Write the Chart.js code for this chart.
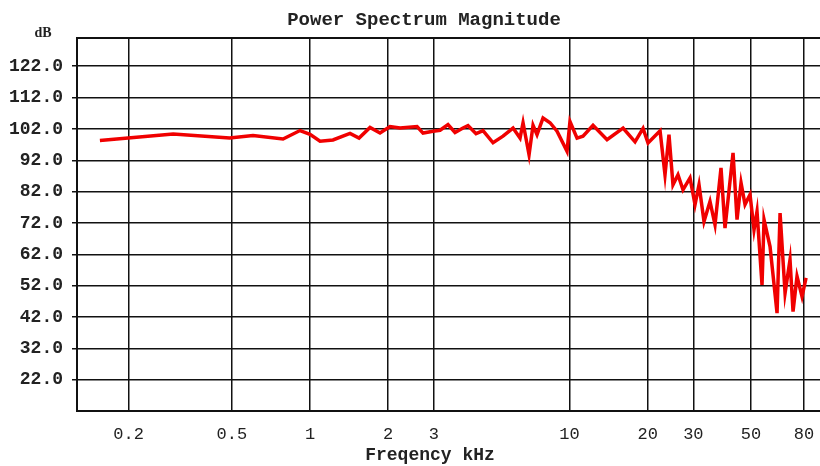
<!DOCTYPE html>
<html>
<head>
<meta charset="utf-8">
<script src="https://cdn.jsdelivr.net/npm/chart.js@4.4.1/dist/chart.umd.min.js"></script>
<style>
  html, body { margin: 0; padding: 0; background: #fff; }
  #wrap { width: 820px; height: 466px; }
</style>
</head>
<body>
<div id="wrap"><canvas id="spectrum" width="820" height="466"></canvas></div>
<script>
// frequency in kHz, level in dB
var freqs = [0.155, 0.199, 0.297, 0.49, 0.603, 0.787, 0.915, 1.0, 1.093, 1.226,
    1.426, 1.545, 1.703, 1.861, 2.034, 2.223, 2.585, 2.726, 2.979, 3.17,
    3.402, 3.621, 3.887, 4.063, 4.362, 4.642, 5.073, 5.543, 6.058, 6.447,
    6.621, 6.983, 7.235, 7.496, 7.906, 8.412, 8.95, 9.781, 10.04, 10.69,
    11.27, 12.32, 13.95, 16.08, 17.11, 17.88, 19.2, 20.07, 22.33, 23.33,
    24.17, 25.04, 26.18, 27.37, 29.13, 30.45, 31.55, 32.98, 34.78, 36.36,
    38.35, 39.73, 42.67, 44.21, 45.81, 47.46, 49.61, 51.4, 52.78, 55.18,
    56.18, 59.25, 63.05, 64.76, 67.7, 70.74, 72.66, 75.28, 78.7, 81.55];
var levels = [98.3, 99.1, 100.4, 99.1, 99.9, 98.8, 101.5, 100.3, 98.1, 98.5,
    100.6, 99.1, 102.5, 100.7, 102.8, 102.3, 102.8, 100.7, 101.3, 101.6,
    103.4, 100.9, 102.3, 103.1, 100.5, 101.5, 97.6, 99.7, 102.3, 99.1,
    104.0, 93.8, 103.2, 100.2, 105.5, 104.0, 101.3, 94.9, 104.4, 99.1,
    99.7, 103.2, 98.6, 102.3, 99.7, 97.9, 102.2, 97.5, 101.4, 87.4,
    100.2, 84.2, 87.4, 82.6, 86.4, 77.9, 84.2, 72.5, 78.9, 71.5,
    89.6, 70.4, 94.4, 73.1, 84.8, 77.9, 81.1, 69.9, 75.7, 52.3,
    73.1, 64.5, 43.3, 75.2, 49.7, 60.3, 43.8, 55.0, 48.6, 54.5];

var xTicks = [0.2, 0.5, 1, 2, 3, 10, 20, 30, 50, 80];
var xTickLabels = ['0.2', '0.5', '1', '2', '3', '10', '20', '30', '50', '80'];
var yTicks = [22, 32, 42, 52, 62, 72, 82, 92, 102, 112, 122];

var points = freqs.map(function(f, i) {
    return { x: f, y: levels[i] };
});

Chart.defaults.font.family = '"Liberation Mono", "Courier New", monospace';
Chart.defaults.color = '#222';

// title, axis captions and top frame line
var extras = {
    id: 'extras',
    afterDraw: function(chart) {
        var c = chart.ctx, a = chart.chartArea;
        c.save();
        c.strokeStyle = '#111';
        c.lineWidth = 2;
        c.beginPath();
        c.moveTo(a.left, a.top);
        c.lineTo(a.right, a.top);
        c.stroke();
        c.fillStyle = '#222';
        c.textAlign = 'center';
        c.textBaseline = 'middle';
        c.font = 'bold 19px "Liberation Mono"';
        c.fillText('Power Spectrum Magnitude', 424, 20);
        c.font = 'bold 18px "Liberation Mono"';
        c.fillText('Freqency kHz', 430, 455);
        c.font = 'bold 14px "Liberation Serif"';
        c.fillText('dB', 43, 33);
        c.restore();
    }
};

var ctx = document.getElementById('spectrum').getContext('2d');
var spectrumChart = new Chart(ctx, {
    type: 'line',
    data: {
        datasets: [{
            data: points,
            borderColor: '#f00000',
            borderWidth: 3.5,
            pointRadius: 0,
            tension: 0,
            fill: false
        }]
    },
    options: {
        responsive: false,
        animation: false,
        layout: { padding: { top: 38, right: 0, left: 0, bottom: 0 } },
        plugins: {
            legend: { display: false },
            tooltip: { enabled: false }
        },
        scales: {
            x: {
                type: 'logarithmic',
                min: 0.1265,
                max: 92.3,
                afterBuildTicks: function(axis) {
                    axis.ticks = xTicks.map(function(v) { return { value: v }; });
                },
                afterFit: function(axis) {
                    axis.height = 55;
                    axis.paddingLeft = 0;
                    axis.paddingRight = 0;
                },
                ticks: {
                    autoSkip: false,
                    maxRotation: 0,
                    padding: 13,
                    font: { size: 17 },
                    color: '#222',
                    callback: function(v) {
                        var i = xTicks.indexOf(v);
                        return i >= 0 ? xTickLabels[i] : '';
                    }
                },
                grid: { color: '#111', lineWidth: 1.5, drawTicks: false },
                border: { color: '#111', width: 2 }
            },
            y: {
                min: 12.1,
                max: 131,
                afterBuildTicks: function(axis) {
                    axis.ticks = yTicks.map(function(v) { return { value: v }; });
                },
                afterFit: function(axis) {
                    axis.width = 77;
                    axis.paddingTop = 0;
                    axis.paddingBottom = 0;
                },
                ticks: {
                    padding: 9,
                    font: { size: 18, weight: 'bold' },
                    color: '#222',
                    callback: function(v) { return v.toFixed(1); }
                },
                grid: { color: '#111', lineWidth: 1.5, tickLength: 5 },
                border: { color: '#111', width: 2 }
            }
        }
    },
    plugins: [extras]
});
</script>
</body>
</html>
